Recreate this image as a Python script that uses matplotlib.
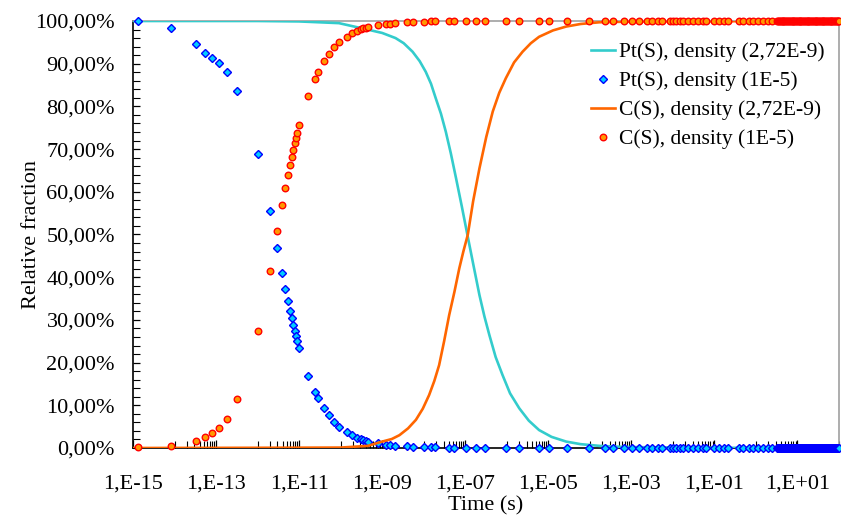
import math
import matplotlib
matplotlib.use("Agg")
import matplotlib.pyplot as plt
from matplotlib.ticker import FixedLocator, FuncFormatter, NullFormatter

# ---------------- data ----------------
# line series (density 2,72E-9)
pt_line_time = [1e-15, 1e-12, 1e-11, 9.1e-11, 4.9e-10, 1.0e-9, 2.1e-9, 3.3e-9, 5.4e-9,
                8.0e-9, 1.12e-8, 1.5e-8, 1.95e-8, 2.6e-8, 3.4e-8, 4.5e-8, 6.0e-8,
                8.3e-8, 1.15e-7, 1.6e-7, 2.2e-7, 2.9e-7, 3.8e-7, 5.4e-7, 7.9e-7,
                1.2e-6, 2.0e-6, 3.4e-6, 6.0e-6, 1.2e-5, 2.7e-5, 6.0e-5, 1.7e-4,
                5.0e-4, 1.5e-3, 1e-1, 1e2]
pt_line_val = [100.0, 100.0, 99.9, 99.5, 97.9, 97.2, 96.0, 94.8, 92.8,
               90.6, 88.1, 85.3, 81.9, 78.3, 74.1, 69.0, 63.2,
               56.5, 49.5, 42.5, 35.8, 30.8, 26.5, 21.3, 17.1,
               12.8, 9.3, 6.4, 4.2, 2.6, 1.5, 0.9, 0.5,
               0.3, 0.2, 0.05, 0.0]

c_line_time = [1e-15, 1e-12, 1e-10, 4.5e-10, 1.0e-9, 1.7e-9, 2.6e-9, 4.2e-9, 6.5e-9,
               9.5e-9, 1.35e-8, 1.8e-8, 2.35e-8, 3.1e-8, 4.1e-8, 5.5e-8, 7.2e-8,
               9.0e-8, 1.15e-7, 1.55e-7, 2.2e-7, 3.2e-7, 4.6e-7, 6.6e-7, 9.5e-7,
               1.5e-6, 2.4e-6, 3.8e-6, 6.0e-6, 1.3e-5, 2.7e-5, 6.0e-5, 1.7e-4,
               5.0e-4, 1.5e-3, 1e2]
c_line_val = [0.0, 0.05, 0.1, 0.5, 1.5, 2.1, 3.0, 4.6, 6.6,
              9.2, 12.4, 15.7, 19.4, 25.0, 31.1, 36.6, 42.1,
              46.0, 49.9, 57.8, 65.5, 72.8, 78.8, 83.2, 86.6,
              90.3, 92.8, 94.8, 96.3, 97.8, 98.7, 99.3, 99.7,
              99.8, 99.9, 100.0]

# scatter series (density 1E-5): early part
scatter_time_a = [
    1.3e-15, 8.1e-15, 3.2e-14, 5.5e-14, 8.1e-14, 1.17e-13, 1.8e-13, 3.2e-13, 1.0e-12,
    1.95e-12, 2.95e-12, 3.8e-12, 4.6e-12, 5.4e-12, 6.0e-12, 6.6e-12, 7.2e-12, 7.9e-12,
    8.5e-12, 9.1e-12, 1.02e-11, 1.66e-11, 2.4e-11, 2.8e-11, 4.0e-11, 5.1e-11, 6.9e-11,
    9.1e-11, 1.41e-10, 1.9e-10, 2.45e-10, 3.1e-10, 3.55e-10, 4.1e-10, 4.6e-10, 7.9e-10,
    1.23e-9, 1.55e-9, 2.0e-9, 3.9e-9, 5.5e-9, 1.0e-8, 1.48e-8, 1.86e-8, 4.0e-8]
pt_scatter_a = [
    100.0, 98.3, 94.5, 92.6, 91.3, 90.1, 88.1, 83.7, 68.9,
    55.6, 46.8, 41.1, 37.2, 34.5, 32.2, 30.4, 28.8, 27.5,
    26.2, 25.1, 23.5, 16.9, 13.2, 11.6, 9.3, 7.7, 6.2,
    4.9, 3.7, 3.0, 2.4, 2.0, 1.8, 1.6, 1.5, 1.1,
    0.8, 0.7, 0.5, 0.4, 0.3, 0.2, 0.2, 0.2, 0.1]
c_scatter_a = [
    0.2, 0.5, 1.6, 2.5, 3.4, 4.7, 6.8, 11.5, 27.3,
    41.5, 50.8, 56.9, 61.0, 64.0, 66.3, 68.2, 69.9, 71.4,
    72.6, 73.8, 75.6, 82.4, 86.3, 88.0, 90.6, 92.3, 93.8,
    95.0, 96.3, 97.1, 97.7, 98.1, 98.3, 98.4, 98.6, 99.1,
    99.3, 99.4, 99.5, 99.7, 99.7, 99.8, 99.9, 99.9, 99.9]

# scatter series: middle part
scatter_time_b = [
    5.4e-8, 1.07e-7, 1.8e-7, 3.0e-7, 9.5e-7, 2.0e-6, 6.0e-6, 1.05e-5, 2.75e-5, 9.3e-5,
    2.35e-4, 3.55e-4, 6.5e-4, 1.05e-3, 1.55e-3, 2.35e-3, 3.2e-3, 4.3e-3, 5.6e-3, 8.5e-3,
    9.8e-3, 1.2e-2, 1.45e-2, 1.8e-2, 2.3e-2, 3.0e-2, 4.0e-2, 5.2e-2, 6.3e-2, 0.10,
    0.13, 0.166, 0.21, 0.39, 0.48, 0.68, 0.87, 1.1, 1.45, 1.9,
    2.45, 3.16]
pt_scatter_b = [
    0.1, 0.05, 0.05, 0.0, 0.0, 0.0, 0.0, 0.0, 0.0, 0.0,
    0.0, 0.0, 0.0, 0.0, 0.0, 0.0, 0.0, 0.0, 0.0, 0.0,
    0.0, 0.0, 0.0, 0.0, 0.0, 0.0, 0.0, 0.0, 0.0, 0.0,
    0.0, 0.0, 0.0, 0.0, 0.0, 0.0, 0.0, 0.0, 0.0, 0.0,
    0.0, 0.0]
c_scatter_b = [
    99.9, 99.95, 99.95, 100.0, 100.0, 100.0, 100.0, 100.0, 100.0, 100.0,
    100.0, 100.0, 100.0, 100.0, 100.0, 100.0, 100.0, 100.0, 100.0, 100.0,
    100.0, 100.0, 100.0, 100.0, 100.0, 100.0, 100.0, 100.0, 100.0, 100.0,
    100.0, 100.0, 100.0, 100.0, 100.0, 100.0, 100.0, 100.0, 100.0, 100.0,
    100.0, 100.0]

# scatter series: dense tail
scatter_time_c = [
    3.4, 3.6, 3.8, 4.0, 4.2, 4.4, 4.6, 4.8, 5.0, 5.3,
    5.6, 5.9, 6.2, 6.5, 6.8, 7.2, 7.6, 8.0, 8.4, 8.8,
    9.2, 9.7, 10.2, 10.7, 11.2, 11.8, 12.4, 13.0, 13.7, 14.4,
    15.1, 15.9, 16.7, 17.5, 18.4, 19.3, 20.3, 21.3, 22.4, 23.5,
    24.7, 26.0, 27.3, 28.7, 30.1, 31.6, 33.2, 34.9, 36.6, 38.4,
    40.3, 42.3, 44.4, 46.6, 48.9, 51.4, 54.0, 56.7, 59.5, 62.5,
    65.6, 68.9, 72.3, 75.9, 79.7, 83.7, 87.9, 92.3, 96.9, 100.0]
pt_scatter_c = [
    0.0, 0.0, 0.0, 0.0, 0.0, 0.0, 0.0, 0.0, 0.0, 0.0,
    0.0, 0.0, 0.0, 0.0, 0.0, 0.0, 0.0, 0.0, 0.0, 0.0,
    0.0, 0.0, 0.0, 0.0, 0.0, 0.0, 0.0, 0.0, 0.0, 0.0,
    0.0, 0.0, 0.0, 0.0, 0.0, 0.0, 0.0, 0.0, 0.0, 0.0,
    0.0, 0.0, 0.0, 0.0, 0.0, 0.0, 0.0, 0.0, 0.0, 0.0,
    0.0, 0.0, 0.0, 0.0, 0.0, 0.0, 0.0, 0.0, 0.0, 0.0,
    0.0, 0.0, 0.0, 0.0, 0.0, 0.0, 0.0, 0.0, 0.0, 0.0]
c_scatter_c = [
    100.0, 100.0, 100.0, 100.0, 100.0, 100.0, 100.0, 100.0, 100.0, 100.0,
    100.0, 100.0, 100.0, 100.0, 100.0, 100.0, 100.0, 100.0, 100.0, 100.0,
    100.0, 100.0, 100.0, 100.0, 100.0, 100.0, 100.0, 100.0, 100.0, 100.0,
    100.0, 100.0, 100.0, 100.0, 100.0, 100.0, 100.0, 100.0, 100.0, 100.0,
    100.0, 100.0, 100.0, 100.0, 100.0, 100.0, 100.0, 100.0, 100.0, 100.0,
    100.0, 100.0, 100.0, 100.0, 100.0, 100.0, 100.0, 100.0, 100.0, 100.0,
    100.0, 100.0, 100.0, 100.0, 100.0, 100.0, 100.0, 100.0, 100.0, 100.0]

labels = ["Pt(S), density (2,72E-9)", "Pt(S), density (1E-5)",
          "C(S), density (2,72E-9)", "C(S), density (1E-5)"]
x_label = "Time (s)"
y_label = "Relative fraction"

scatter_time = scatter_time_a + scatter_time_b + scatter_time_c
pt_scatter_val = pt_scatter_a + pt_scatter_b + pt_scatter_c
c_scatter_val = c_scatter_a + c_scatter_b + c_scatter_c

# ---------------- style ----------------
plt.rcParams["font.family"] = ["Liberation Serif", "DejaVu Serif"]
FS = 16
LFS = 15.5

fig = plt.figure(figsize=(8.41, 5.18), dpi=100)
ax = fig.add_axes([133 / 841, 70 / 518, 706 / 841, 427 / 518])

ax.plot(pt_line_time, pt_line_val, color="#33CCCC", lw=1.9, label=labels[0], zorder=3)
ax.plot(scatter_time, pt_scatter_val, linestyle="none", marker="D", ms=3.8,
        mfc="#00CCFF", mec="#0000FF", mew=1.0, label=labels[1], zorder=4, clip_on=False)
ax.plot(c_line_time, c_line_val, color="#FF6600", lw=1.9, label=labels[2], zorder=5)
ax.plot(scatter_time, c_scatter_val, linestyle="none", marker="o", ms=4.7,
        mfc="#FF9900", mec="#FF0000", mew=1.0, label=labels[3], zorder=6, clip_on=False)

ax.set_xscale("log")
ax.set_xlim(1e-15, 1e2)
ax.set_ylim(0, 100)

major_x = [10.0 ** e for e in range(-15, 2, 2)]
minor_x = [k * 10.0 ** e for e in range(-15, 2, 2) for k in (10, 20, 30, 40, 50, 60, 70, 80, 90)]
ax.xaxis.set_major_locator(FixedLocator(major_x))
ax.xaxis.set_minor_locator(FixedLocator(minor_x))
ax.xaxis.set_major_formatter(FuncFormatter(
    lambda v, p: "1,E{:+03d}".format(int(round(math.log10(v))))))
ax.xaxis.set_minor_formatter(NullFormatter())

ax.yaxis.set_major_locator(FixedLocator([0, 10, 20, 30, 40, 50, 60, 70, 80, 90, 100]))
ax.yaxis.set_minor_locator(FixedLocator(list(range(0, 101, 2))))
ax.yaxis.set_major_formatter(FuncFormatter(lambda v, p: "{:.2f}%".format(v).replace(".", ",")))

ax.tick_params(axis="both", which="both", direction="in", top=False, right=False,
               labelsize=FS, colors="black")
ax.tick_params(axis="x", which="major", length=6, width=0.9, pad=19)
ax.tick_params(axis="x", which="minor", length=5, width=0.8)
ax.tick_params(axis="y", which="major", length=5, width=0.9, pad=13)
ax.tick_params(axis="y", which="minor", length=5, width=0.8)

for s in ("left", "bottom"):
    ax.spines[s].set_color("black")
    ax.spines[s].set_linewidth(1.2)
for s in ("top", "right"):
    ax.spines[s].set_color("#A0A0A0")
    ax.spines[s].set_linewidth(1.2)

ax.set_xlabel(x_label, fontsize=FS, labelpad=2)
ax.set_ylabel(y_label, fontsize=FS, labelpad=-4)

leg = ax.legend(loc="upper left", bbox_to_anchor=(591 / 841, 1 - 42 / 518),
                bbox_transform=fig.transFigure, frameon=False, fontsize=LFS,
                handlelength=1.1, handletextpad=0.2, labelspacing=0.42,
                borderpad=0.0, borderaxespad=0.0, numpoints=1)

fig.savefig("out.png", dpi=100, facecolor="white")
